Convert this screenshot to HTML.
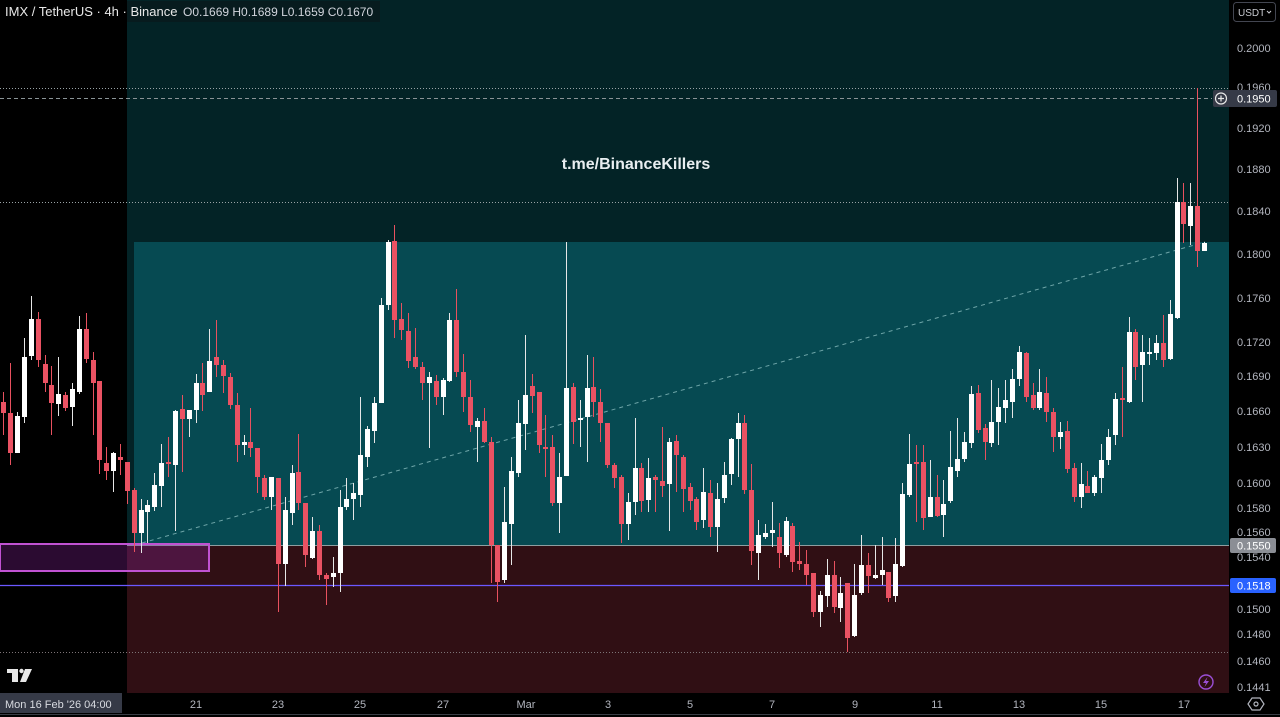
<!DOCTYPE html>
<html><head><meta charset="utf-8"><style>
html,body{margin:0;padding:0;background:#000;width:1280px;height:717px;overflow:hidden}
svg{display:block}
text{font-family:"Liberation Sans",sans-serif}
</style></head><body>
<svg width="1280" height="717" viewBox="0 0 1280 717" xmlns="http://www.w3.org/2000/svg">
<rect x="0" y="0" width="1280" height="717" fill="#000"/>
<!-- zones -->
<rect x="127" y="0" width="1102" height="545" fill="#032326"/>
<rect x="134" y="242" width="1095" height="303" fill="#064a52"/>
<rect x="127" y="545" width="1102" height="148" fill="#300f14"/>
<line x1="127" y1="545.5" x2="1229" y2="545.5" stroke="#8e9ea0" stroke-width="1"/>
<!-- header bg -->
<rect x="127" y="1" width="253" height="21" fill="#071b1e"/>
<!-- dotted / dashed horizontal lines -->
<line x1="0" y1="88.5" x2="1229" y2="88.5" stroke="#9aa3a6" stroke-width="1" stroke-dasharray="1 2"/>
<line x1="0" y1="98.5" x2="1212" y2="98.5" stroke="#8a9396" stroke-width="1" stroke-dasharray="4 3"/>
<line x1="0" y1="202.5" x2="1229" y2="202.5" stroke="#9aa3a6" stroke-width="1" stroke-dasharray="1 2"/>
<line x1="0" y1="652.5" x2="1229" y2="652.5" stroke="#7d7477" stroke-width="1" stroke-dasharray="1 2"/>
<!-- purple box -->
<rect x="0" y="544" width="209" height="27" fill="rgba(156,39,176,0.28)" stroke="#c052d2" stroke-width="2"/>
<!-- blue line -->
<line x1="0" y1="585.5" x2="1229" y2="585.5" stroke="#6b58ff" stroke-width="1.2"/>
<!-- trend dashed -->
<line x1="142" y1="543" x2="1205" y2="242" stroke="#6ea5a8" stroke-width="1" stroke-dasharray="4 4"/>
<!-- watermark -->
<text x="636" y="169" fill="#e8eef0" font-size="16" font-weight="bold" text-anchor="middle">t.me/BinanceKillers</text>
<!-- candles red -->
<path fill="none" stroke="#e8515f" stroke-width="1" d="M3.5 392V435M10.5 363V465M38.5 312V367M45.5 355V392M51.5 366V435M65.5 392V411M86.5 313V363M93.5 352V435M99.5 381V474M106.5 447V480M120.5 444V475M127.5 462V504M134.5 488V552M168.5 437V477M182.5 395V472M202.5 363V411M216.5 320V377M223.5 360V393M230.5 373V409M237.5 393V462M250.5 408V457M257.5 448V493M264.5 475V500M278.5 478V612M298.5 434V510M305.5 503V567M319.5 525V580M326.5 573V605M394.5 225V338M401.5 303V340M408.5 313V368M415.5 328V369M422.5 362V400M436.5 375V405M456.5 289V377M463.5 354V412M470.5 380V432M484.5 408V443M491.5 437V583M497.5 545V602M532.5 374V413M539.5 392V453M545.5 415V477M552.5 435V506M573.5 383V444M593.5 357V417M600.5 389V442M607.5 423V468M614.5 463V488M621.5 475V543M641.5 463V512M655.5 475V512M662.5 427V497M676.5 435V492M683.5 455V512M690.5 483V510M696.5 497V530M710.5 480V537M744.5 415V494M751.5 464V565M779.5 523V568M792.5 523V572M799.5 542V570M806.5 550V585M813.5 573V617M834.5 561V613M847.5 583V652M868.5 553V593M888.5 572V602M916.5 445V522M923.5 445V530M937.5 475V517M978.5 385V433M985.5 424V460M1026.5 352V402M1033.5 383V410M1046.5 377V422M1053.5 408V452M1067.5 421V473M1074.5 463V502M1087.5 471V493M1122.5 367V437M1135.5 329V380M1163.5 315V367M1183.5 183V243M1197.5 88V267"/>
<path fill="#ea5263" d="M1 402h5V413h-5zM8 413h5V453h-5zM36 319h5V360h-5zM43 364h5V383h-5zM49 385h5V403h-5zM63 395h5V408h-5zM84 329h5V359h-5zM91 360h5V383h-5zM97 381h5V460h-5zM104 463h5V471h-5zM118 457h5V460h-5zM125 462h5V491h-5zM132 490h5V533h-5zM166 462h5V464h-5zM180 409h5V419h-5zM200 383h5V395h-5zM214 357h5V365h-5zM221 365h5V376h-5zM228 377h5V405h-5zM235 405h5V445h-5zM248 442h5V448h-5zM255 448h5V477h-5zM262 478h5V497h-5zM276 478h5V564h-5zM296 472h5V503h-5zM303 503h5V555h-5zM317 531h5V575h-5zM324 575h5V579h-5zM392 241h5V320h-5zM399 319h5V330h-5zM406 331h5V361h-5zM413 357h5V367h-5zM420 367h5V383h-5zM434 381h5V397h-5zM454 320h5V372h-5zM461 372h5V397h-5zM468 397h5V425h-5zM482 421h5V442h-5zM489 442h5V545h-5zM495 545h5V582h-5zM530 386h5V396h-5zM537 392h5V445h-5zM543 447h5V449h-5zM550 447h5V503h-5zM571 387h5V422h-5zM591 387h5V402h-5zM598 402h5V423h-5zM605 423h5V465h-5zM612 465h5V478h-5zM619 477h5V524h-5zM639 468h5V501h-5zM653 477h5V480h-5zM660 481h5V486h-5zM674 441h5V455h-5zM681 457h5V489h-5zM688 487h5V501h-5zM694 499h5V522h-5zM708 493h5V527h-5zM742 423h5V490h-5zM749 490h5V551h-5zM777 537h5V553h-5zM790 526h5V562h-5zM797 561h5V564h-5zM804 564h5V575h-5zM811 573h5V612h-5zM832 575h5V607h-5zM845 583h5V638h-5zM866 565h5V576h-5zM886 572h5V598h-5zM914 462h5V464h-5zM921 462h5V518h-5zM935 497h5V516h-5zM976 393h5V430h-5zM983 428h5V442h-5zM1024 353h5V397h-5zM1031 395h5V408h-5zM1044 393h5V412h-5zM1051 412h5V437h-5zM1065 431h5V469h-5zM1072 468h5V497h-5zM1085 486h5V493h-5zM1120 398h5V400h-5zM1133 332h5V367h-5zM1161 343h5V360h-5zM1181 202h5V224h-5zM1195 206h5V251h-5z"/>
<!-- candles white -->
<path fill="none" stroke="#e6e6e6" stroke-width="1" d="M17.5 412V453M24.5 338V423M31.5 296V360M58.5 357V416M72.5 383V426M79.5 316V394M113.5 452V492M141.5 499V553M147.5 500V543M154.5 473V511M161.5 444V507M175.5 410V531M189.5 410V437M196.5 374V423M209.5 329V392M244.5 435V455M271.5 477V510M285.5 497V586M292.5 465V525M312.5 517V559M333.5 557V587M340.5 490V592M346.5 478V510M353.5 483V520M360.5 397V507M367.5 426V467M374.5 397V443M381.5 298V403M388.5 240V310M429.5 372V448M443.5 378V415M449.5 313V382M477.5 418V462M504.5 487V583M511.5 457V565M518.5 400V477M525.5 335V450M559.5 453V533M566.5 242V476M580.5 400V447M587.5 355V462M628.5 493V540M635.5 418V515M648.5 458V512M669.5 438V531M703.5 468V528M717.5 483V552M724.5 462V503M731.5 438V485M738.5 413V477M758.5 520V580M765.5 524V539M772.5 502V547M786.5 517V557M820.5 591V627M827.5 559V607M840.5 577V622M854.5 564V637M861.5 535V595M875.5 545V579M882.5 537V585M895.5 538V602M902.5 483V567M909.5 434V497M930.5 460V517M943.5 480V537M950.5 431V503M957.5 418V477M964.5 432V462M971.5 386V448M991.5 380V447M998.5 388V445M1005.5 380V423M1012.5 369V418M1019.5 346V386M1039.5 369V410M1060.5 422V449M1081.5 463V508M1094.5 475V496M1101.5 444V493M1108.5 429V465M1115.5 393V445M1129.5 317V403M1142.5 335V402M1149.5 338V365M1156.5 335V360M1170.5 300V360M1177.5 178V319M1190.5 183V245M1204.5 242V251"/>
<path fill="#ffffff" d="M15 416h5V453h-5zM22 357h5V417h-5zM29 319h5V356h-5zM56 394h5V404h-5zM70 389h5V407h-5zM77 329h5V392h-5zM111 453h5V471h-5zM139 510h5V533h-5zM145 505h5V512h-5zM152 485h5V507h-5zM159 463h5V486h-5zM173 411h5V465h-5zM187 410h5V419h-5zM194 383h5V410h-5zM207 361h5V392h-5zM242 442h5V445h-5zM269 477h5V497h-5zM283 510h5V564h-5zM290 473h5V513h-5zM310 531h5V558h-5zM331 573h5V577h-5zM338 507h5V573h-5zM344 499h5V507h-5zM351 493h5V499h-5zM358 455h5V495h-5zM365 429h5V457h-5zM372 403h5V431h-5zM379 305h5V403h-5zM386 242h5V305h-5zM427 377h5V383h-5zM441 380h5V397h-5zM447 320h5V381h-5zM475 421h5V427h-5zM502 522h5V580h-5zM509 471h5V524h-5zM516 423h5V473h-5zM523 395h5V424h-5zM557 477h5V503h-5zM564 388h5V476h-5zM578 418h5V420h-5zM585 388h5V417h-5zM626 502h5V524h-5zM633 468h5V502h-5zM646 478h5V500h-5zM667 442h5V484h-5zM701 492h5V520h-5zM715 499h5V527h-5zM722 475h5V498h-5zM729 439h5V474h-5zM736 423h5V439h-5zM756 535h5V553h-5zM763 533h5V537h-5zM770 530h5V533h-5zM784 521h5V555h-5zM818 595h5V612h-5zM825 575h5V596h-5zM838 593h5V608h-5zM852 595h5V636h-5zM859 565h5V593h-5zM873 575h5V578h-5zM880 570h5V575h-5zM893 564h5V596h-5zM900 494h5V566h-5zM907 464h5V495h-5zM928 497h5V517h-5zM941 504h5V515h-5zM948 467h5V501h-5zM955 459h5V471h-5zM962 442h5V459h-5zM969 394h5V443h-5zM989 422h5V443h-5zM996 407h5V422h-5zM1003 400h5V408h-5zM1010 379h5V402h-5zM1017 352h5V379h-5zM1037 392h5V408h-5zM1058 432h5V437h-5zM1079 484h5V497h-5zM1092 477h5V493h-5zM1099 460h5V478h-5zM1106 437h5V460h-5zM1113 399h5V435h-5zM1127 332h5V402h-5zM1140 352h5V365h-5zM1147 352h5V354h-5zM1154 343h5V353h-5zM1168 314h5V359h-5zM1175 202h5V318h-5zM1188 206h5V226h-5zM1202 243h5V251h-5z"/>
<!-- header text -->
<text x="5" y="16" fill="#e8e8e8" font-size="13">IMX / TetherUS · 4h · Binance</text>
<text x="183" y="16" fill="#d1d4dc" font-size="12">O0.1669 H0.1689 L0.1659 C0.1670</text>
<!-- TV logo -->
<g fill="#e8e8e8">
<rect x="7" y="669" width="11" height="4"/>
<rect x="12" y="669" width="6" height="13"/>
<circle cx="21.5" cy="671" r="2.2"/>
<polygon points="25,669 32,669 26,682 20,682"/>
</g>
<!-- lightning icon -->
<circle cx="1206" cy="682" r="7" fill="none" stroke="#9b4fd6" stroke-width="1.4"/>
<polygon points="1207.5,677 1203,683 1206,683 1204.5,687 1209,681 1206,681" fill="#9b4fd6"/>
<!-- right axis -->
<rect x="1229" y="0" width="51" height="693" fill="#000"/>
<rect x="1233.5" y="2.5" width="42" height="19" rx="3" fill="#000" stroke="#434651"/>
<text x="1238" y="16" fill="#c8cad0" font-size="10">USDT</text>
<path d="M1267 11l2 2 2-2" fill="none" stroke="#c8cad0" stroke-width="1"/>
<g fill="#b2b5be" font-size="11">
<text x="1237" y="52">0.2000</text>
<text x="1237" y="91">0.1960</text>
<text x="1237" y="132">0.1920</text>
<text x="1237" y="173">0.1880</text>
<text x="1237" y="215">0.1840</text>
<text x="1237" y="258">0.1800</text>
<text x="1237" y="302">0.1760</text>
<text x="1237" y="346">0.1720</text>
<text x="1237" y="380">0.1690</text>
<text x="1237" y="415">0.1660</text>
<text x="1237" y="451">0.1630</text>
<text x="1237" y="487">0.1600</text>
<text x="1237" y="512">0.1580</text>
<text x="1237" y="536">0.1560</text>
<text x="1237" y="561">0.1540</text>
<text x="1237" y="613">0.1500</text>
<text x="1237" y="638">0.1480</text>
<text x="1237" y="665">0.1460</text>
<text x="1237" y="691">0.1441</text>
</g>
<!-- price labels -->
<rect x="1213" y="90" width="64" height="17" rx="2" fill="#363a47"/>
<circle cx="1221" cy="98.5" r="5.5" fill="none" stroke="#e8e8e8" stroke-width="1.2"/>
<path d="M1221 95.5v6M1218 98.5h6" stroke="#e8e8e8" stroke-width="1.2"/>
<text x="1237" y="102.5" fill="#ffffff" font-size="11">0.1950</text>
<rect x="1230" y="538" width="46" height="15" rx="2" fill="#8b8e95"/>
<text x="1237" y="549.5" fill="#ffffff" font-size="11">0.1550</text>
<rect x="1230" y="578" width="46" height="15" rx="2" fill="#2962ff"/>
<text x="1237" y="589.5" fill="#ffffff" font-size="11">0.1518</text>
<!-- bottom axis -->
<rect x="0" y="693" width="1280" height="24" fill="#000"/>
<line x1="0" y1="714.5" x2="1280" y2="714.5" stroke="#3a3d45" stroke-width="1"/>
<rect x="0" y="693" width="122" height="20" fill="#363a47"/>
<text x="5" y="708" fill="#d8dae0" font-size="11">Mon 16 Feb '26   04:00</text>
<g fill="#b2b5be" font-size="11" text-anchor="middle">
<text x="196" y="708">21</text>
<text x="278" y="708">23</text>
<text x="360" y="708">25</text>
<text x="443" y="708">27</text>
<text x="526" y="708">Mar</text>
<text x="608" y="708">3</text>
<text x="690" y="708">5</text>
<text x="772" y="708">7</text>
<text x="855" y="708">9</text>
<text x="937" y="708">11</text>
<text x="1019" y="708">13</text>
<text x="1101" y="708">15</text>
<text x="1184" y="708">17</text>
</g>
<polygon points="1252,698 1260,698 1264,704 1260,710 1252,710 1248,704" fill="none" stroke="#b2b5be" stroke-width="1.2"/>
<circle cx="1256" cy="704" r="2" fill="none" stroke="#b2b5be" stroke-width="1.2"/>
</svg>
</body></html>
